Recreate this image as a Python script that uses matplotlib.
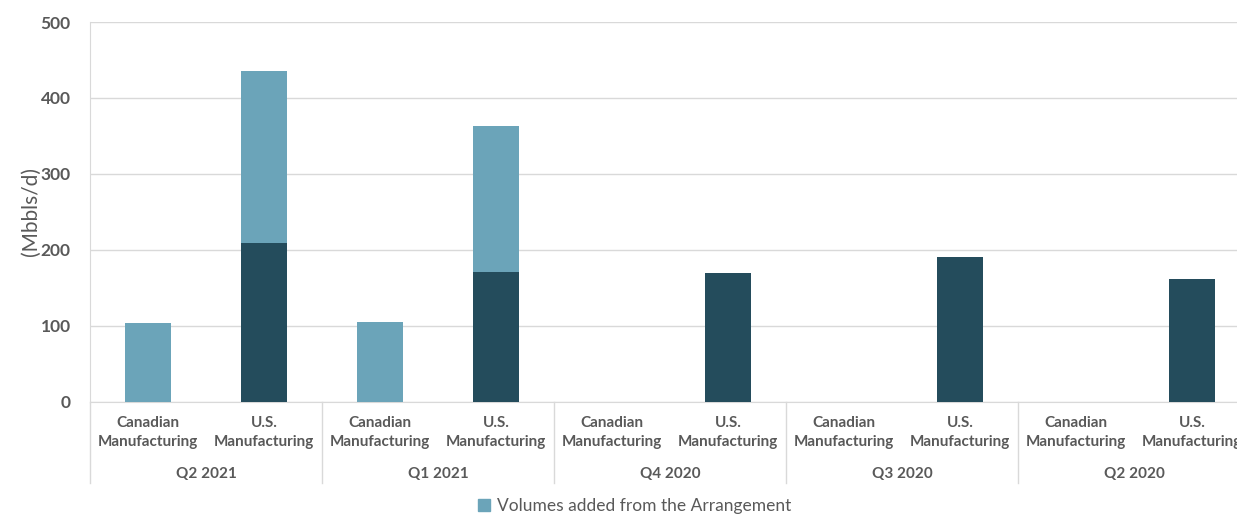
import matplotlib.pyplot as plt
from matplotlib.patches import Patch
import numpy as np

quarters = ["Q2 2021", "Q1 2021", "Q4 2020", "Q3 2020", "Q2 2020"]
segments = ["Canadian\nManufacturing", "U.S.\nManufacturing"]
# base volumes (dark) and volumes added from the Arrangement (light), per bar
base_volumes = [0, 209, 0, 171, 0, 169, 0, 191, 0, 162]
added_volumes = [103, 226, 105, 192, 0, 0, 0, 0, 0, 0]
y_ticks = [0, 100, 200, 300, 400, 500]

light = "#6ba4b9"
dark = "#244c5c"
grid_c = "#d9d9d9"
text_c = "#595959"

plt.rcParams["font.family"] = ["Lato", "DejaVu Sans"]

fig = plt.figure(figsize=(12.37, 5.14), dpi=100)
ax = fig.add_axes([90 / 1237, 1 - 401.7 / 514, 1160 / 1237, 379.7 / 514])

x = np.arange(len(base_volumes))
ax.bar(x, base_volumes, width=0.39, color=dark, zorder=3)
ax.bar(x, added_volumes, width=0.39, bottom=base_volumes, color=light, zorder=3)

ax.set_xlim(-0.5, len(x) - 0.5)
ax.set_ylim(0, 500)
ax.set_yticks(y_ticks)
ax.set_yticklabels([str(t) for t in y_ticks], fontsize=12.5, fontweight="bold", color=text_c)
ax.yaxis.grid(True, color=grid_c, linewidth=1, zorder=0)
ax.tick_params(axis="y", length=0, pad=14)

ax.set_xticks(x)
ax.set_xticklabels(segments * len(quarters), fontsize=11, fontweight="bold", color=text_c,
                   linespacing=1.45)
ax.tick_params(axis="x", length=0, pad=10)

for s in ["top", "right"]:
    ax.spines[s].set_visible(False)
ax.spines["left"].set_color(grid_c)
ax.spines["bottom"].set_color(grid_c)

ax.set_ylabel("(Mbbls/d)", fontsize=15, color=text_c, labelpad=0)

trans = ax.get_xaxis_transform()
for i, q in enumerate(quarters):
    ax.text(2 * i + 0.5, -0.19, q, transform=trans, ha="center", va="center",
            fontsize=11, fontweight="bold", color=text_c)
    ax.plot([2 * i - 0.5, 2 * i - 0.5], [0, -0.215], transform=trans, color=grid_c,
            linewidth=1, clip_on=False)

fig.legend(handles=[Patch(color=light, label="Volumes added from the Arrangement")],
           loc="center", bbox_to_anchor=(635 / 1237, 1 - 506 / 514), frameon=False,
           fontsize=12.5, handlelength=0.7, handleheight=0.7, handletextpad=0.4,
           labelcolor=text_c)

fig.savefig("out.png", dpi=100)
